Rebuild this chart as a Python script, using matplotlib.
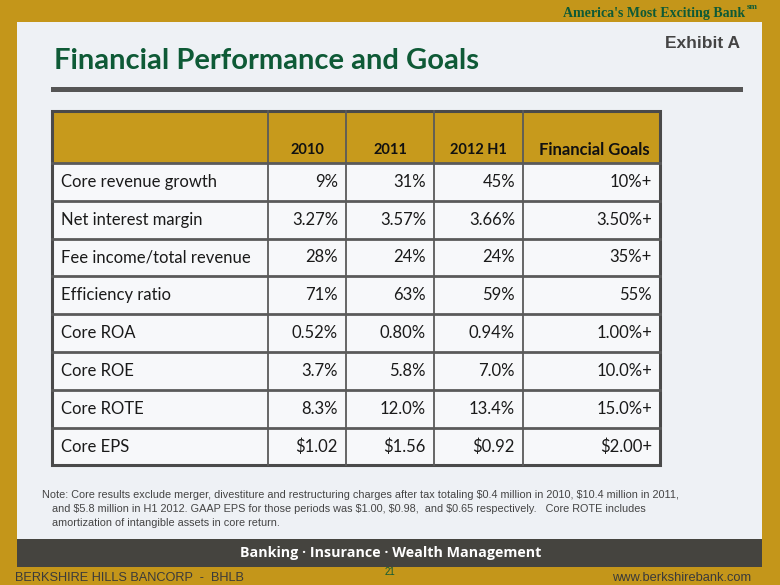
import matplotlib.pyplot as plt
from matplotlib.patches import Rectangle

#--- table content
col_headers = ['2010', '2011', '2012 H1', 'Financial Goals']
row_labels = ['Core revenue growth', 'Net interest margin', 'Fee income/total revenue',
              'Efficiency ratio', 'Core ROA', 'Core ROE', 'Core ROTE', 'Core EPS']
vals_2010 = ['9%', '3.27%', '28%', '71%', '0.52%', '3.7%', '8.3%', '\\$1.02']
vals_2011 = ['31%', '3.57%', '24%', '63%', '0.80%', '5.8%', '12.0%', '\\$1.56']
vals_2012h1 = ['45%', '3.66%', '24%', '59%', '0.94%', '7.0%', '13.4%', '\\$0.92']
goals = ['10%+', '3.50%+', '35%+', '55%', '1.00%+', '10.0%+', '15.0%+', '\\$2.00+']

note_lines = [
    "Note: Core results exclude merger, divestiture and restructuring charges after tax totaling \\$0.4 million in 2010, \\$10.4 million in 2011,",
    "and \\$5.8 million in H1 2012. GAAP EPS for those periods was \\$1.00, \\$0.98,  and \\$0.65 respectively.   Core ROTE includes",
    "amortization of intangible assets in core return.",
]

gold = '#C4961A'
green = '#0E5A36'
grid = '#5A5A5A'

fig = plt.figure(figsize=(7.8, 5.85), dpi=100)
fig.patch.set_facecolor(gold)
ax = fig.add_axes([0, 0, 1, 1])
ax.set_xlim(0, 780)
ax.set_ylim(585, 0)
ax.axis('off')

# slide panel, title rule, footer band
ax.add_patch(Rectangle((17, 22), 745, 517, facecolor='#EEF1F5', edgecolor='none'))
ax.add_patch(Rectangle((51, 87), 692, 5, facecolor='#555555', edgecolor='none'))
ax.add_patch(Rectangle((17, 539), 745, 28, facecolor='#45443F', edgecolor='none'))

ax.text(745, 13, "America's Most Exciting Bank", ha='right', va='center', fontsize=10,
        family='Liberation Serif', fontweight='bold', color=green)
ax.text(747, 7, 'sm', ha='left', va='center', fontsize=6.5, family='Liberation Serif',
        fontweight='bold', color=green)
ax.text(54, 61, 'Financial Performance and Goals', ha='left', va='center', fontsize=21,
        family='Lato', fontweight='bold', color=green)
ax.text(740, 43, 'Exhibit A', ha='right', va='center', fontsize=12.5,
        family='Liberation Sans', fontweight='bold', color='#444444')

#--- table
xs = [52, 268, 346, 434, 523, 660]
top, head_bot, row_h = 111, 163, 37.8
nrows = len(row_labels)
bot = head_bot + row_h * nrows

ax.add_patch(Rectangle((xs[0], top), xs[-1] - xs[0], head_bot - top, facecolor='#C79A1C', edgecolor='none'))
ax.add_patch(Rectangle((xs[0], head_bot), xs[-1] - xs[0], bot - head_bot, facecolor='#F7F8FA', edgecolor='none'))

for x in xs[1:-1]:
    ax.plot([x, x], [top, bot], color=grid, lw=1.3)
for i in range(1, nrows):
    y = head_bot + row_h * i
    ax.plot([xs[0], xs[-1]], [y, y], color=grid, lw=2)
ax.plot([xs[0], xs[-1]], [head_bot, head_bot], color=grid, lw=2)
ax.add_patch(Rectangle((xs[0], top), xs[-1] - xs[0], bot - top, facecolor='none', edgecolor='#4A4A4A', lw=2.2))

for j, h in enumerate(col_headers):
    xc = (xs[j + 1] + xs[j + 2]) / 2 + (3 if j == 3 else 0)
    ax.text(xc, head_bot - 13, h, ha='center', va='center', fontsize=12 if j == 3 else 10.5,
            family='Lato', fontweight='bold', color='#111111')

cols = [vals_2010, vals_2011, vals_2012h1, goals]
for i, lab in enumerate(row_labels):
    yc = head_bot + row_h * (i + 0.5)
    ax.text(xs[0] + 9, yc, lab, ha='left', va='center', fontsize=12, family='Lato', color='#1A1A1A')
    for j, col in enumerate(cols):
        ax.text(xs[j + 2] - 8, yc, col[i], ha='right', va='center', fontsize=12, family='Lato', color='#1A1A1A')

# note and footer
for k, line in enumerate(note_lines):
    ax.text(42 if k == 0 else 52, 495 + 14 * k, line, ha='left', va='center', fontsize=7.8,
            family='Liberation Sans', color='#444444')
ax.text(391, 553, 'Banking · Insurance · Wealth Management', ha='center', va='center', fontsize=10.3,
        family='Open Sans', fontweight='bold', color='white')
ax.text(15, 578, 'BERKSHIRE HILLS BANCORP  -  BHLB', ha='left', va='center', fontsize=9.2,
        family='Liberation Sans', color='#3A3A3A')
ax.text(390, 572, '21', ha='center', va='center', fontsize=7, family='Liberation Sans', color=green)
ax.text(751, 578, 'www.berkshirebank.com', ha='right', va='center', fontsize=9.3,
        family='Liberation Sans', color='#3A3A3A')

fig.savefig('out.png', dpi=100, facecolor=fig.get_facecolor())
